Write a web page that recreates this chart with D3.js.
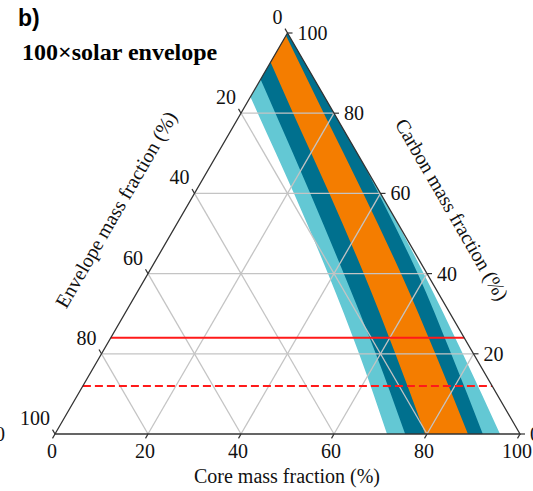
<!DOCTYPE html>
<html>
<head>
<meta charset="utf-8">
<script src="https://cdn.jsdelivr.net/npm/d3@7"></script>
<style>
  html, body { margin: 0; padding: 0; background: #fff; }
  svg { display: block; }
</style>
</head>
<body>
<svg id="chart" width="533" height="491"></svg>
<script>
// Ternary diagram: envelope (bottom-left), core (bottom-right), carbon (top).
// Band boundaries are given as envelope mass fraction (%) at each carbon level (%).
const carbonLevels   = [0, 20, 40, 60, 80, 100];
const lightLeftEnv   = [28.6, 24.6, 21.3, 18.6, 16.4, 14.0];
const darkLeftEnv    = [24.7, 21.0, 17.9, 15.1, 12.6, 10.2];
const orangeLeftEnv  = [20.4, 16.8, 13.6, 11.0, 8.8, 6.4];
const orangeRightEnv = [11.2, 8.2, 5.6, 3.7, 2.2, 0.6];
const darkRightEnv   = [8.0, 4.8, 2.0, 0.4, -0.6, -1.5];
const lightRightEnv  = [4.3, 2.3, 0.7, -0.3, -1.2, -2.0];

const tickValues   = [0, 20, 40, 60, 80, 100];
const gridValues   = [20, 40, 60, 80];
const solidCarbon  = 24;   // solid red constraint (carbon %)
const dashedCarbon = 12;   // dashed red constraint (carbon %)

const colLight  = "#63c8d4";
const colDark   = "#00708e";
const colOrange = "#f47d00";

const svg = d3.select("#chart");

// Triangle vertices in px
const vTop = [287.5, 33], vLeft = [55, 434], vRight = [520, 434];
// Percent -> fraction
const sx = d3.scaleLinear().domain([0, 100]).range([0, 1]);

function pt(env, core, carbon) {
  const e = sx(env), k = sx(core), c = sx(carbon);
  return [e * vLeft[0] + k * vRight[0] + c * vTop[0],
          e * vLeft[1] + k * vRight[1] + c * vTop[1]];
}
function ptEC(env, carbon) { return pt(env, 100 - env - carbon, carbon); }

const triPoints = [vTop, vLeft, vRight].map(p => p.join(",")).join(" ");
svg.append("defs").append("clipPath").attr("id", "tri")
  .append("polygon").attr("points", triPoints);

const line = d3.line().curve(d3.curveMonotoneY);

function band(outerEnv, innerEnv) {
  const a = carbonLevels.map((c, i) => ptEC(outerEnv[i], c));
  const b = carbonLevels.map((c, i) => ptEC(innerEnv[i], c)).reverse();
  return line(a) + "L" + line(b).slice(1) + "Z";
}

const bands = svg.append("g").attr("clip-path", "url(#tri)");
bands.append("path").attr("d", band(lightLeftEnv, lightRightEnv)).attr("fill", colLight);
bands.append("path").attr("d", band(darkLeftEnv, darkRightEnv)).attr("fill", colDark);
bands.append("path").attr("d", band(orangeLeftEnv, orangeRightEnv)).attr("fill", colOrange);

// Grid
const grid = svg.append("g").attr("stroke", "#c4c4c4").attr("stroke-width", 1.3).attr("fill", "none");
function seg(g, a, b) {
  g.append("line").attr("x1", a[0]).attr("y1", a[1]).attr("x2", b[0]).attr("y2", b[1]);
}
gridValues.forEach(v => {
  seg(grid, pt(100 - v, 0, v), pt(0, 100 - v, v));
  seg(grid, pt(100 - v, v, 0), pt(0, v, 100 - v));
  seg(grid, pt(v, 100 - v, 0), pt(v, 0, 100 - v));
});

// Red carbon constraints
function hline(c, dashed) {
  const a = pt(100 - c, 0, c), b = pt(0, 100 - c, c);
  svg.append("line").attr("x1", a[0]).attr("y1", a[1]).attr("x2", b[0]).attr("y2", b[1])
    .attr("stroke", "#ff1a1a").attr("stroke-width", 2)
    .attr("stroke-dasharray", dashed ? "8,4" : null);
}
hline(solidCarbon, false);
hline(dashedCarbon, true);

// Triangle frame
svg.append("polygon").attr("points", triPoints)
  .attr("fill", "none").attr("stroke", "#333").attr("stroke-width", 1.3);

// Ticks and tick labels
const tk = 5;
const ticks = svg.append("g").attr("stroke", "#333").attr("stroke-width", 1.2);
const labels = svg.append("g").attr("font-family", "'Liberation Serif', 'Times New Roman', serif")
  .attr("font-size", 20).attr("fill", "#111");

tickValues.forEach(v => {
  // core (bottom)
  let p = pt(100 - v, v, 0);
  seg(ticks, p, [p[0] - tk * 0.5, p[1] + tk * 0.866]);
  labels.append("text").attr("x", p[0] - 3).attr("y", p[1] + 24).attr("text-anchor", "middle").text(v);
  // carbon (right)
  p = pt(0, 100 - v, v);
  seg(ticks, p, [p[0] + tk, p[1]]);
  labels.append("text").attr("x", p[0] + 10).attr("y", p[1] + 7).attr("text-anchor", "start").text(v);
  // envelope (left)
  p = pt(v, 0, 100 - v);
  seg(ticks, p, [p[0] - tk * 0.5, p[1] - tk * 0.866]);
  labels.append("text").attr("x", p[0] - 5).attr("y", p[1] - 9).attr("text-anchor", "end").text(v);
});
// neighbouring panel's corner label, partially in view
labels.append("text").attr("x", 5).attr("y", 441).attr("text-anchor", "end").text("0");

// Axis titles
const titles = svg.append("g").attr("font-family", "'Liberation Serif', 'Times New Roman', serif")
  .attr("font-size", 20).attr("fill", "#111").attr("text-anchor", "middle");
titles.append("text").attr("x", 287).attr("y", 483).text("Core mass fraction (%)");
titles.append("text").attr("transform", "translate(122,213) rotate(-60)").text("Envelope mass fraction (%)");
titles.append("text").attr("transform", "translate(446,213) rotate(60)").text("Carbon mass fraction (%)");

// Panel label and subtitle
svg.append("text").attr("x", 18).attr("y", 26).attr("font-family", "'Liberation Sans', Arial, sans-serif")
  .attr("font-weight", "bold").attr("font-size", 23).attr("fill", "#000").text("b)");
svg.append("text").attr("x", 22).attr("y", 60).attr("font-family", "'Liberation Serif', 'Times New Roman', serif")
  .attr("font-weight", "bold").attr("font-size", 24).attr("fill", "#000").text("100×solar envelope");
</script>
</body>
</html>
